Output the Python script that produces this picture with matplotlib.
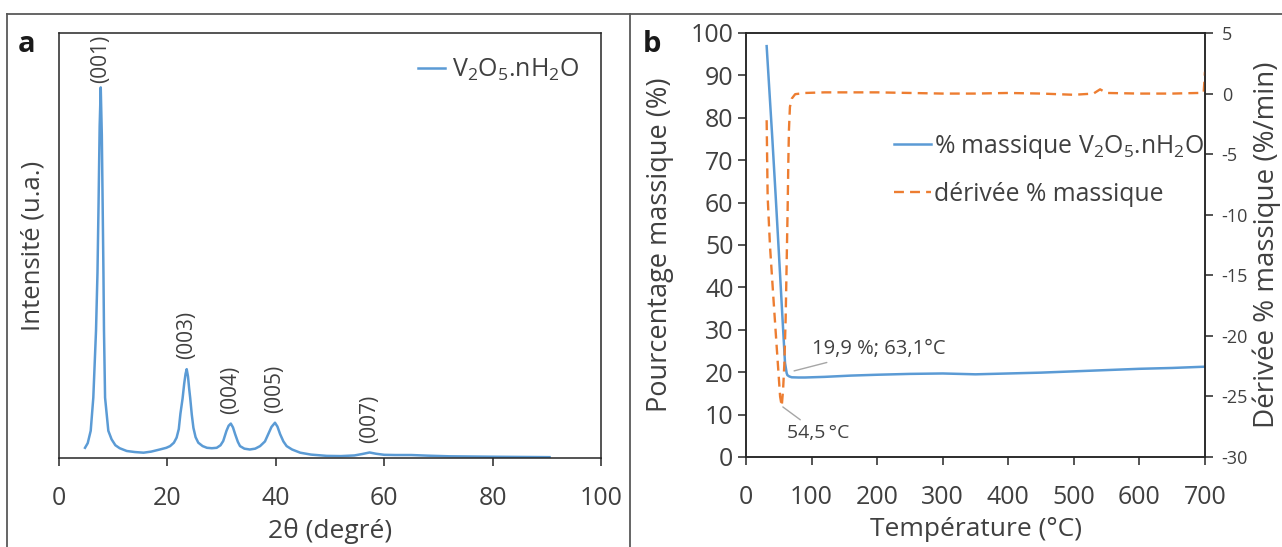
import matplotlib
matplotlib.use("Agg")
import matplotlib.pyplot as plt
from matplotlib.lines import Line2D
import numpy as np

# ---------------- data ----------------
# (a) XRD pattern
two_theta = [4.8, 5.3, 5.85, 6.33, 6.83, 7.1, 7.3, 7.5, 7.7, 7.9, 8.05, 8.2, 8.3, 8.5,
             9.1, 9.7, 10.4, 11.2, 12.5, 14.0, 15.6, 17.0, 18.6, 19.8, 20.5, 21.2, 21.7,
             22.1, 22.4, 22.8, 23.1, 23.35, 23.56, 23.8, 24.0, 24.2, 24.5, 24.8, 25.2,
             25.7, 26.5, 27.3, 28.2, 29.1, 29.8, 30.3, 30.9, 31.3, 31.7, 32.1, 32.5,
             33.0, 33.4, 34.2, 35.2, 36.2, 37.1, 38.0, 38.6, 39.2, 39.85, 40.3, 40.8,
             41.4, 42.0, 43.0, 44.5, 46.5, 49.4, 52.0, 54.5, 56.0, 57.3, 58.5, 60.0,
             62.0, 65.0, 68.0, 72.0, 76.0, 80.0, 85.0, 90.5]
intensity = [2.4, 3.5, 6.4, 14.2, 30.0, 43.6, 60.0, 78.0, 87.2, 76.0, 60.0, 43.6, 30.0, 14.2,
             6.4, 4.4, 3.0, 2.3, 1.65, 1.4, 1.25, 1.5, 2.0, 2.4, 2.8, 3.6, 4.8,
             6.8, 10.4, 14.0, 17.5, 19.8, 20.9, 19.2, 16.5, 14.2, 10.2, 7.1, 4.9,
             3.6, 2.8, 2.4, 2.3, 2.4, 3.0, 4.0, 6.4, 7.6, 8.1, 7.2, 5.6,
             3.8, 2.8, 2.2, 2.0, 2.2, 2.8, 3.9, 5.6, 7.3, 8.3, 7.4, 5.6,
             3.9, 2.8, 2.0, 1.25, 0.8, 0.5, 0.45, 0.6, 0.95, 1.3, 1.0, 0.75,
             0.7, 0.7, 0.55, 0.4, 0.35, 0.3, 0.25, 0.2]
peak_labels = ["(001)", "(003)", "(004)", "(005)", "(007)"]
peak_pos = [7.7, 23.56, 31.7, 39.85, 57.3]
xrd_xticks = [0, 20, 40, 60, 80, 100]

# (b) TGA
temp_mass = [31.5, 40, 45.3, 50, 55, 59.5, 62.0, 63.1, 66, 69.7, 80, 90, 120, 160, 200, 250,
             300, 350, 400, 450, 500, 550, 600, 650, 700]
mass_pct = [96.9, 75.5, 61.4, 48.5, 34.5, 22.2, 19.8, 19.3, 19.0, 18.8, 18.75, 18.75, 18.9,
            19.2, 19.4, 19.6, 19.7, 19.5, 19.7, 19.9, 20.2, 20.5, 20.8, 21.0, 21.3]
temp_deriv = [31.5, 33, 36.6, 41.7, 46.8, 52, 54.5, 56.5, 58.5, 60.5, 62, 63.5, 64.5, 65.5,
              67, 70, 75, 90, 120, 150, 200, 250, 300, 350, 400, 450, 500, 530, 540, 550,
              600, 650, 690, 698, 700]
deriv = [-2.2, -8.5, -12.6, -16.8, -20.9, -25.0, -25.8, -24.5, -22.3, -18.5, -14.0, -9.5,
         -5.8, -3.0, -1.1, -0.4, -0.05, 0.05, 0.1, 0.1, 0.1, 0.05, 0.0, 0.0, 0.05, 0.0,
         -0.1, 0.0, 0.35, 0.05, 0.0, 0.0, 0.05, 0.1, 1.8]
tga_xticks = [0, 100, 200, 300, 400, 500, 600, 700]
mass_yticks = [0, 10, 20, 30, 40, 50, 60, 70, 80, 90, 100]
deriv_yticks = [-30, -25, -20, -15, -10, -5, 0, 5]

# ---------------- style ----------------
FONT = ["Open Sans", "DejaVu Sans"]
plt.rcParams["font.family"] = FONT
plt.rcParams["mathtext.fontset"] = "custom"
plt.rcParams["mathtext.rm"] = "Open Sans"
plt.rcParams["mathtext.it"] = "Open Sans"
plt.rcParams["axes.unicode_minus"] = False
BLUE = "#5B9BD5"
ORANGE = "#ED7D31"
TXT = "#404040"

W, H = 1282, 547
fig = plt.figure(figsize=(W / 100, H / 100), dpi=100)

def fr(x0, y_top, x1, y_bot):
    return [x0 / W, 1 - y_bot / H, (x1 - x0) / W, (y_bot - y_top) / H]

# outer frame lines
for xs, ys in [([7, W], [14, 14]), ([7, 7], [14, H]), ([630, 630], [14, H])]:
    fig.add_artist(Line2D([x / W for x in xs], [1 - y / H for y in ys],
                          transform=fig.transFigure, color="#595959", lw=1.3))

# ---------------- panel a ----------------
ax = fig.add_axes(fr(59, 33, 601, 458))
ax.plot(two_theta, intensity, color=BLUE, lw=1.8,
        label=r"V$_\mathregular{2}$O$_\mathregular{5}$.nH$_\mathregular{2}$O")
ax.set_xlim(0, 100)
ax.set_ylim(0, 100)
ax.set_yticks([])
ax.set_xticks(xrd_xticks)
for s in ax.spines.values():
    s.set_linewidth(1.1)
    s.set_color("#262626")
ax.tick_params(axis="x", direction="out", length=6, width=1.1, color="#262626",
               labelsize=18, labelcolor=TXT, pad=14)
ax.set_xlabel("2θ (degré)", fontsize=19, color=TXT, labelpad=5)
ax.set_ylabel("Intensité (u.a.)", fontsize=18.5, color=TXT, labelpad=10)
for lab, px in zip(peak_labels, peak_pos):
    py = np.interp(px, two_theta, intensity)
    off = 3 if py > 50 else 7
    ax.annotate(lab, xy=(px, py), xytext=(0, off), textcoords="offset points",
                rotation=90, ha="center", va="bottom", fontsize=15, color=TXT)
leg = ax.legend(loc="center left", bbox_to_anchor=(0.662, 0.913), frameon=False,
                fontsize=18, handlelength=1.1, handletextpad=0.25, borderpad=0,
                borderaxespad=0)
for t in leg.get_texts():
    t.set_color(TXT)
fig.text(18 / W, 1 - 52 / H, "a", fontsize=21, fontweight="bold", color="#1a1a1a",
         ha="left", va="baseline")

# ---------------- panel b ----------------
bx = fig.add_axes(fr(746, 33, 1205, 457))
l1, = bx.plot(temp_mass, mass_pct, color=BLUE, lw=1.8,
              label=r"% massique V$_\mathregular{2}$O$_\mathregular{5}$.nH$_\mathregular{2}$O")
bx.set_xlim(0, 700)
bx.set_ylim(0, 100)
bx.set_xticks(tga_xticks)
bx.set_yticks(mass_yticks)
for s in bx.spines.values():
    s.set_linewidth(1.1)
    s.set_color("#262626")
bx.tick_params(direction="out", length=6, width=1.1, color="#262626",
               labelsize=18, labelcolor=TXT)
bx.tick_params(axis="x", pad=14)
bx.tick_params(axis="y", pad=3)
bx.set_xlabel("Température (°C)", fontsize=19, color=TXT, labelpad=5)
bx.set_ylabel("Pourcentage massique (%)", fontsize=19.5, color=TXT, labelpad=12)

b2 = bx.twinx()
l2, = b2.plot(temp_deriv, deriv, color=ORANGE, lw=1.7, linestyle=(0, (4.2, 2.6)),
              label="dérivée % massique")
b2.set_ylim(-30, 5)
b2.set_yticks(deriv_yticks)
b2.tick_params(direction="out", length=6, width=1.1, color="#262626",
               labelsize=13, labelcolor=TXT, pad=6)
for s in b2.spines.values():
    s.set_linewidth(1.1)
    s.set_color("#262626")
b2.set_ylabel("Dérivée % massique (%/min)", fontsize=20, color=TXT, labelpad=3)

bx.annotate("19,9 %; 63,1°C", xy=(63.1, 19.9), xytext=(18, 17),
            textcoords="offset points", ha="left", va="center", fontsize=14.5, color=TXT,
            arrowprops=dict(arrowstyle="-", color="#A6A6A6", lw=1, shrinkA=2, shrinkB=5))
b2.annotate("54,5\u2009°C", xy=(54.5, -25.8), xytext=(4, -19.5),
            textcoords="offset points", ha="left", va="center", fontsize=14, color=TXT,
            arrowprops=dict(arrowstyle="-", color="#A6A6A6", lw=1, shrinkA=2, shrinkB=1))

leg2 = bx.legend(handles=[l1, l2], loc="center left", bbox_to_anchor=(0.3224, 0.678),
                 frameon=False, fontsize=17.8, handlelength=1.5, handletextpad=0.1,
                 borderpad=0, borderaxespad=0, labelspacing=0.85)
for t in leg2.get_texts():
    t.set_color(TXT)
fig.text(643 / W, 1 - 52 / H, "b", fontsize=21, fontweight="bold", color="#1a1a1a",
         ha="left", va="baseline")

fig.savefig("out.png", dpi=100)
